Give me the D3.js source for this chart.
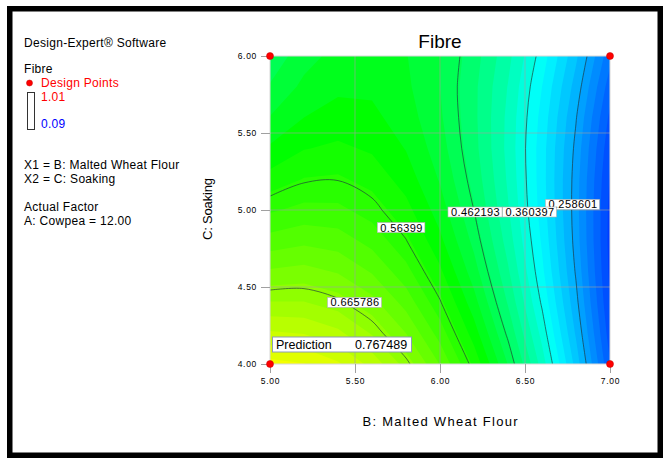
<!DOCTYPE html>
<html>
<head>
<meta charset="utf-8">
<script src="https://cdn.jsdelivr.net/npm/d3@7"></script>
<style>
body{margin:0;background:#fff}
text{font-family:"Liberation Sans",Arial,sans-serif}
</style>
</head>
<body>
<script>
// B: Malted Wheat Flour (columns) and C: Soaking (rows)
var flour = [5.0, 5.2, 5.4, 5.6, 5.8, 6.0, 6.2, 6.4, 6.6, 6.8, 7.0];
var soaking = [4.0, 4.2, 4.4, 4.6, 4.8, 5.0, 5.2, 5.4, 5.6, 5.8, 6.0];

// fibre, one row per soaking level
var fibre = [
	[0.767, 0.761, 0.743, 0.713, 0.672, 0.619, 0.555, 0.479, 0.391, 0.292, 0.181],
	[0.723, 0.719, 0.705, 0.678, 0.640, 0.591, 0.530, 0.457, 0.373, 0.277, 0.169],
	[0.681, 0.681, 0.670, 0.647, 0.612, 0.566, 0.508, 0.438, 0.357, 0.265, 0.160],
	[0.643, 0.647, 0.638, 0.618, 0.587, 0.544, 0.489, 0.423, 0.345, 0.256, 0.155],
	[0.608, 0.615, 0.610, 0.593, 0.565, 0.525, 0.474, 0.411, 0.337, 0.250, 0.153],
	[0.577, 0.586, 0.585, 0.571, 0.547, 0.510, 0.462, 0.402, 0.331, 0.248, 0.154],
	[0.548, 0.561, 0.563, 0.553, 0.531, 0.498, 0.453, 0.397, 0.329, 0.249, 0.158],
	[0.523, 0.539, 0.544, 0.537, 0.519, 0.489, 0.447, 0.394, 0.329, 0.253, 0.165],
	[0.501, 0.520, 0.528, 0.525, 0.510, 0.483, 0.445, 0.395, 0.333, 0.260, 0.175],
	[0.482, 0.505, 0.516, 0.516, 0.504, 0.480, 0.445, 0.399, 0.340, 0.271, 0.189],
	[0.466, 0.492, 0.507, 0.510, 0.501, 0.481, 0.449, 0.406, 0.351, 0.284, 0.206]
];

var levels = [0.258601, 0.360397, 0.462193, 0.56399, 0.665786];
var levelFlour = [6.782, 6.529, 6.209, 5.774, 5.50];
var levelSoaking = [5.036, 4.987, 4.987, 4.886, 4.40];

var pointsFlour = [5, 7, 5, 7];
var pointsSoaking = [4, 4, 6, 6];

var predFlour = 5, predSoaking = 4, predValue = "0.767489";

var xTicks = [5.0, 5.5, 6.0, 6.5, 7.0];
var yTicks = [4.0, 4.5, 5.0, 5.5, 6.0];

var fibreMax = 1.01, fibreMin = 0.09;

var w = 672, h = 462;
var svg = d3.select("body").append("svg")
	.attr("width", w)
	.attr("height", h);

// frame
svg.append("rect")
	.attr("x", 9.75).attr("y", 8.75)
	.attr("width", 650.5).attr("height", 446.5)
	.attr("fill", "#fff")
	.attr("stroke", "#000")
	.attr("stroke-width", 5.5);

var x = d3.scaleLinear().domain([5, 7]).range([270, 610]);
var y = d3.scaleLinear().domain([4, 6]).range([364, 56]);

var colour = d3.scaleLinear()
	.domain([fibreMin, 0.345, 0.53, 0.78, fibreMax])
	.range(["#0000ff", "#00ffff", "#00ff00", "#ffff00", "#ff0000"]);

svg.append("clipPath").attr("id", "plotclip")
	.append("rect")
	.attr("x", x(5)).attr("y", y(6))
	.attr("width", x(7) - x(5)).attr("height", y(4) - y(6));

var n = flour.length, m = soaking.length;
var values = [].concat.apply([], fibre);
var gx = d3.scaleLinear().domain([0.5, n - 0.5]).range([flour[0], flour[n - 1]]);
var gy = d3.scaleLinear().domain([0.5, m - 0.5]).range([soaking[0], soaking[m - 1]]);
var path = d3.geoPath(d3.geoTransform({
	point: function(px, py) { this.stream.point(x(gx(px)), y(gy(py))); }
}));

var plot = svg.append("g").attr("clip-path", "url(#plotclip)");

var step = 0.02;
var bands = d3.range(0.14, 0.78, step);
plot.selectAll("path.band")
	.data(d3.contours().size([n, m]).thresholds(bands)(values))
	.enter().append("path")
	.attr("class", "band")
	.attr("d", path)
	.attr("fill", function(d) { return colour(d.value + step / 2); });

// grid lines
plot.selectAll("line.gx")
	.data(xTicks.slice(1, -1))
	.enter().append("line")
	.attr("x1", function(d) { return x(d); }).attr("x2", function(d) { return x(d); })
	.attr("y1", y(6)).attr("y2", y(4))
	.attr("stroke", "#a0a0a0").attr("stroke-opacity", 0.6);
plot.selectAll("line.gy")
	.data(yTicks.slice(1, -1))
	.enter().append("line")
	.attr("y1", function(d) { return y(d); }).attr("y2", function(d) { return y(d); })
	.attr("x1", x(5)).attr("x2", x(7))
	.attr("stroke", "#a0a0a0").attr("stroke-opacity", 0.6);

// contour lines: keep only the parts inside the grid, then smooth them
function inside(p) {
	var e = 1e-6;
	return p[0] >= 0.5 - e && p[0] <= n - 0.5 + e && p[1] >= 0.5 - e && p[1] <= m - 0.5 + e;
}
var runs = [];
d3.contours().size([n, m]).thresholds(levels)(values).forEach(function(c) {
	c.coordinates.forEach(function(poly) {
		poly.forEach(function(ring) {
			var cur = [];
			ring.forEach(function(p) {
				if (inside(p)) cur.push([x(gx(p[0])), y(gy(p[1]))]);
				else { if (cur.length > 1) runs.push(cur); cur = []; }
			});
			if (cur.length > 1) runs.push(cur);
		});
	});
});
var line = d3.line().curve(d3.curveCatmullRom.alpha(0.5));
plot.selectAll("path.level")
	.data(runs)
	.enter().append("path")
	.attr("class", "level")
	.attr("d", line)
	.attr("fill", "none")
	.attr("stroke", "#1e3c3c")
	.attr("stroke-opacity", 0.85)
	.attr("stroke-width", 0.8);

svg.append("rect")
	.attr("x", x(5)).attr("y", y(6))
	.attr("width", x(7) - x(5)).attr("height", y(4) - y(6))
	.attr("fill", "none").attr("stroke", "#d8d8d8");

// contour labels
levels.forEach(function(v, i) {
	var g = svg.append("g")
		.attr("transform", "translate(" + x(levelFlour[i]) + "," + y(levelSoaking[i]) + ")");
	var bg = g.append("rect");
	var t = g.append("text")
		.attr("text-anchor", "middle")
		.attr("y", 4)
		.attr("font-size", "11px")
		.attr("letter-spacing", "0.4px")
		.text(String(v));
	var tw = t.node().getComputedTextLength();
	bg.attr("x", -tw / 2 - 3).attr("y", -5)
		.attr("width", tw + 5).attr("height", 10)
		.attr("fill", "#fff").attr("stroke", "#b0b0b0").attr("stroke-width", 0.6);
});

// axes
var xAxis = svg.append("g")
	.attr("transform", "translate(0," + y(4) + ")")
	.call(d3.axisBottom(x).tickValues(xTicks).tickFormat(d3.format(".2f")).tickSize(9).tickPadding(5));
var yAxis = svg.append("g")
	.attr("transform", "translate(" + x(5) + ",0)")
	.call(d3.axisLeft(y).tickValues(yTicks).tickFormat(d3.format(".2f")).tickSize(9).tickPadding(4));
[xAxis, yAxis].forEach(function(a) {
	a.select(".domain").remove();
	a.selectAll(".tick line").attr("stroke", "#a0a0a0");
	a.selectAll(".tick text")
		.attr("font-family", "Liberation Sans, Arial, sans-serif")
		.attr("font-size", "8.5px")
		.attr("letter-spacing", "0.7px")
		.attr("fill", "#000");
});

// design points
svg.selectAll("circle.pt")
	.data(pointsFlour)
	.enter().append("circle")
	.attr("cx", function(d) { return x(d); })
	.attr("cy", function(d, i) { return y(pointsSoaking[i]); })
	.attr("r", 3.5)
	.attr("fill", "#ff0000")
	.attr("stroke", "#c00000")
	.attr("stroke-width", 0.5);

// prediction flag
var px0 = x(predFlour), py0 = y(predSoaking);
svg.append("rect")
	.attr("x", px0 + 2.5).attr("y", py0 - 27)
	.attr("width", 139).attr("height", 15)
	.attr("fill", "#fff").attr("stroke", "#8c9cb8");
svg.append("text")
	.attr("x", px0 + 6).attr("y", py0 - 15)
	.attr("font-size", "12.5px")
	.text("Prediction");
svg.append("text")
	.attr("x", px0 + 85).attr("y", py0 - 15)
	.attr("font-size", "12.5px")
	.text(predValue);

// titles
svg.append("text")
	.attr("x", 440).attr("y", 48)
	.attr("text-anchor", "middle")
	.attr("font-size", "19px")
	.text("Fibre");
svg.append("text")
	.attr("x", 440).attr("y", 426)
	.attr("text-anchor", "middle")
	.attr("font-size", "13px")
	.attr("textLength", 155)
	.attr("lengthAdjust", "spacing")
	.text("B: Malted Wheat Flour");
svg.append("text")
	.attr("transform", "translate(212,209) rotate(-90)")
	.attr("text-anchor", "middle")
	.attr("font-size", "13px")
	.attr("textLength", 62)
	.attr("lengthAdjust", "spacing")
	.text("C: Soaking");

// side legend
var legendText = ["Design-Expert\u00ae Software", "Fibre", "X1 = B: Malted Wheat Flour", "X2 = C: Soaking", "Actual Factor", "A: Cowpea = 12.00"];
var legendY = [47, 73, 169, 183, 211, 225];
svg.selectAll("text.leg")
	.data(legendText)
	.enter().append("text")
	.attr("x", 24)
	.attr("y", function(d, i) { return legendY[i]; })
	.attr("font-size", "12px")
	.attr("letter-spacing", "0.3px")
	.text(function(d) { return d; });

svg.append("circle").attr("cx", 29.5).attr("cy", 83).attr("r", 3)
	.attr("fill", "#ff0000").attr("stroke", "#c00000").attr("stroke-width", 0.5);
svg.append("text").attr("x", 41).attr("y", 87).attr("font-size", "12px")
	.attr("letter-spacing", "0.3px").attr("fill", "#ff0000").text("Design Points");
svg.append("rect").attr("x", 27.5).attr("y", 92.5).attr("width", 7).attr("height", 37)
	.attr("fill", "#fff").attr("stroke", "#333");
svg.append("text").attr("x", 41).attr("y", 101).attr("font-size", "12px")
	.attr("letter-spacing", "0.3px").attr("fill", "#ff0000").text(fibreMax.toFixed(2));
svg.append("text").attr("x", 41).attr("y", 128).attr("font-size", "12px")
	.attr("letter-spacing", "0.3px").attr("fill", "#0000ff").text(fibreMin.toFixed(2));
</script>
</body>
</html>
